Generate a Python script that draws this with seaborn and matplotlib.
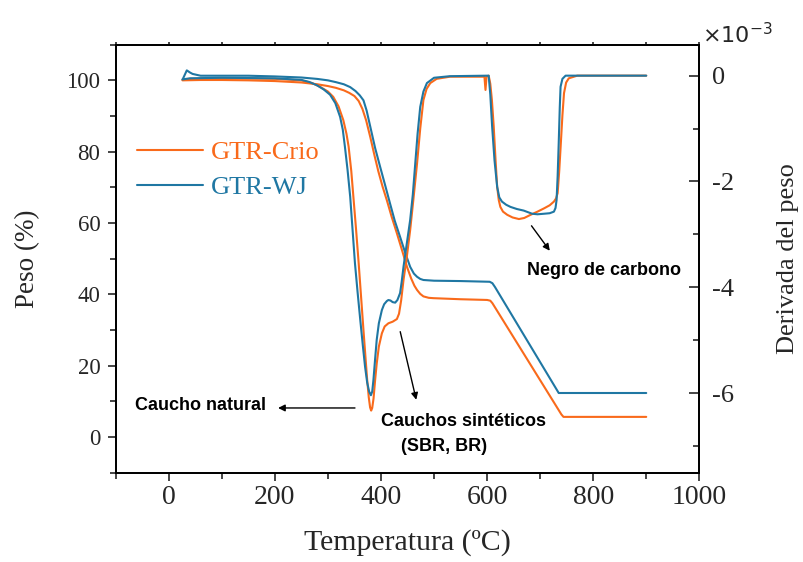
import matplotlib
matplotlib.use("Agg")
import matplotlib.pyplot as plt
from matplotlib.lines import Line2D
import seaborn as sns

# ---------------- data ----------------
# TGA (weight %) -- GTR-Crio
tga_crio_T = [26, 60, 100, 150, 200, 250, 280, 300, 315, 330, 340, 350, 358, 365, 372, 380, 388, 395, 403, 411, 420, 430, 440,
              449, 457, 463, 468, 474, 480, 490, 499, 550, 600, 606, 610, 615, 740, 744, 800, 900]
tga_crio_W = [100.0, 100.1, 100.1, 100.0, 99.8, 99.4, 98.9, 98.4, 97.9, 97.2, 96.5, 95.6, 94.2, 92.0, 88.8, 84.0, 78.8, 74.5, 70.2, 66.4, 61.8, 57.1, 52.2,
              47.7, 44.4, 42.4, 41.2, 40.1, 39.4, 39.0, 38.9, 38.6, 38.4, 38.2, 37.5, 36.3, 6.3, 5.6, 5.6, 5.6]

# TGA (weight %) -- GTR-WJ
tga_wj_T = [26, 30, 34, 40, 45, 60, 100, 150, 200, 250, 280, 300, 315, 330, 342, 352, 360, 367, 373, 380, 389, 398.5, 408, 417, 426, 436, 446,
            455, 462, 468, 474, 480, 500, 550, 605, 610, 615, 731, 735, 740, 800, 900]
tga_wj_W = [100.2, 101.5, 102.8, 102.2, 101.8, 101.3, 101.3, 101.3, 101.1, 100.8, 100.4, 100.0, 99.5, 98.9, 98.1, 97.0, 95.8, 94.4, 91.5, 86.9, 81.0, 75.7, 70.5, 65.5, 60.6, 56.1, 51.5,
            47.7, 45.8, 44.9, 44.3, 44.0, 43.8, 43.7, 43.5, 43.1, 42.0, 13.3, 12.3, 12.3, 12.3, 12.3]

# DTG (x10^-3) -- GTR-Crio
dtg_crio_T = [26, 40, 100, 200, 250, 270, 285, 300, 310, 320, 329, 335, 339, 344, 348, 353, 358, 363, 367, 371, 374, 377, 379.5, 381.5, 383.5,
              386, 389, 392, 396, 401.7, 407, 414, 422, 430, 434, 438, 442.5, 449, 455, 461, 468, 474, 480, 486, 493, 505, 530,
              595, 597, 599, 603, 606, 609, 612.5, 616, 619, 622, 625, 630, 638, 648, 660, 670, 682, 695, 707, 718, 726, 730, 733,
              736, 739, 742, 745, 749, 754, 770, 900]
dtg_crio_D = [-0.08, -0.06, -0.05, -0.06, -0.09, -0.14, -0.21, -0.30, -0.40, -0.58, -0.84, -1.10, -1.34, -1.80, -2.29, -2.90, -3.55, -4.25, -4.81, -5.35, -5.75, -6.08, -6.27, -6.33, -6.28,
              -6.10, -5.75, -5.44, -5.12, -4.87, -4.74, -4.68, -4.65, -4.60, -4.50, -4.25, -3.86, -3.40, -2.92, -2.35, -1.66, -1.00, -0.46, -0.25, -0.14, -0.06, -0.02,
              -0.02, -0.27, -0.02, 0.0, -0.15, -0.45, -0.96, -1.60, -2.10, -2.35, -2.48, -2.57, -2.63, -2.68, -2.71, -2.69, -2.63, -2.57, -2.51, -2.45, -2.38, -2.32, -2.22,
              -1.80, -1.28, -0.75, -0.33, -0.13, -0.05, 0.0, 0.0]

# DTG (x10^-3) -- GTR-WJ
dtg_wj_T = [26, 40, 100, 200, 250, 265, 279, 292, 304, 314, 323, 328, 332, 337, 342, 346, 351, 356, 361, 366, 370, 374, 377.7, 381, 383.5,
            385.8, 389, 392, 396, 401.7, 406, 411, 414, 418, 422, 426.8, 431, 436, 439, 442.5, 449, 455, 460, 464.6, 469, 474, 480, 486.6, 500, 530,
            603, 606, 609.5, 614, 619, 623, 628, 636, 644, 656, 669, 677, 685, 695, 707, 718, 726, 729, 731, 733, 735, 737, 738.5, 742, 748, 900]
dtg_wj_D = [-0.07, -0.05, -0.04, -0.05, -0.08, -0.12, -0.18, -0.26, -0.36, -0.52, -0.78, -1.02, -1.34, -1.78, -2.29, -2.85, -3.55, -4.10, -4.62, -5.12, -5.50, -5.80, -5.97, -6.04, -5.97,
            -5.75, -5.35, -4.99, -4.68, -4.43, -4.32, -4.26, -4.24, -4.25, -4.28, -4.29, -4.24, -4.11, -3.90, -3.61, -3.15, -2.73, -2.25, -1.66, -1.10, -0.59, -0.30, -0.14, -0.04, -0.01,
            0.0, -0.35, -0.96, -1.60, -2.10, -2.30, -2.38, -2.44, -2.48, -2.52, -2.55, -2.58, -2.61, -2.62, -2.61, -2.60, -2.57, -2.50, -2.35, -1.90, -1.28, -0.60, -0.21, -0.06, 0.0, 0.0]

series_labels = ["GTR-Crio", "GTR-WJ"]
x_ticks = [0, 200, 400, 600, 800, 1000]
y_ticks = [0, 20, 40, 60, 80, 100]
y2_ticks = [0, -2, -4, -6]

# ---------------- style ----------------
ORANGE = "#F96A1B"
BLUE = "#1F77A3"
SERIF = ["Liberation Serif", "DejaVu Serif"]

sns.set_theme(style="ticks")
plt.rcParams["font.family"] = SERIF
plt.rcParams["axes.unicode_minus"] = False

fig = plt.figure(figsize=(8.04, 5.62), dpi=100)
ax = fig.add_axes([115.7 / 804, 1 - 472.5 / 562, (699.3 - 115.7) / 804, (472.5 - 44.7) / 562])
ax2 = ax.twinx()

lw = 1.5
sns.lineplot(x=tga_crio_T, y=tga_crio_W, ax=ax, color=ORANGE, lw=lw, sort=False)
sns.lineplot(x=tga_wj_T, y=tga_wj_W, ax=ax, color=BLUE, lw=lw, sort=False)
sns.lineplot(x=dtg_crio_T, y=dtg_crio_D, ax=ax2, color=ORANGE, lw=lw, sort=False)
sns.lineplot(x=dtg_wj_T, y=dtg_wj_D, ax=ax2, color=BLUE, lw=lw, sort=False)

ax.set_xlim(-100, 1000)
ax.set_ylim(-10, 110)
ax2.set_ylim(-7.5, 0.585)

ax.set_xticks(x_ticks)
ax.set_xticks(list(range(-100, 1001, 200)), minor=True)
ax.set_yticks(y_ticks)
ax.set_yticks(list(range(-10, 111, 20)), minor=True)
ax2.set_yticks(y2_ticks)
ax2.set_yticks([-1, -3, -5, -7], minor=True)

for a in (ax, ax2):
    for s in a.spines.values():
        s.set_linewidth(1.3)
        s.set_color("black")

ax.tick_params(axis="x", which="both", direction="out", bottom=True, top=True, width=1.2)
ax.tick_params(axis="x", which="major", labelsize=20, length=6, pad=3)
ax.tick_params(axis="x", which="minor", length=4)
for t in ax.xaxis.get_major_ticks() + ax.xaxis.get_minor_ticks():
    t.tick2line.set_markersize(2)
ax.tick_params(axis="y", which="both", direction="out", labelsize=16.5, width=1.2, pad=5)
ax.tick_params(axis="y", which="major", length=6)
ax.tick_params(axis="y", which="minor", length=4)
ax2.tick_params(axis="y", which="both", direction="in", labelsize=19, width=1.2, pad=9)
ax2.tick_params(axis="y", which="major", length=7)
ax2.tick_params(axis="y", which="minor", length=4)

ax.set_xlabel("Temperatura (ºC)", fontsize=21.5, labelpad=14)
ax.set_ylabel("Peso (%)", fontsize=19.5, labelpad=19)
ax2.set_ylabel("Derivada del peso", fontsize=19, labelpad=31)

ax2.text(1.004, 0.993, "×10$^{-3}$", transform=ax2.transAxes, fontsize=16,
         ha="left", va="bottom", family=["DejaVu Sans"])

# legend
handles = [Line2D([], [], color=ORANGE, lw=lw), Line2D([], [], color=BLUE, lw=lw)]
leg = ax.legend(handles, series_labels, loc="upper left", bbox_to_anchor=(0.036, 0.775),
                frameon=False, fontsize=19, handlelength=2.5, handletextpad=0.32,
                labelspacing=0.42, borderpad=0, borderaxespad=0)
for t, c in zip(leg.get_texts(), [ORANGE, BLUE]):
    t.set_color(c)

# annotations
bold = dict(fontsize=13, fontweight="bold", family=["Liberation Sans", "DejaVu Sans"], color="black")
arrow = dict(arrowstyle="-|>", color="black", lw=1.0, mutation_scale=10, shrinkA=0, shrinkB=0)
ax.text(-64, 8.8, "Caucho natural", ha="left", va="center", **bold)
ax.annotate("", xy=(206, 8.1), xytext=(351, 8.1), arrowprops=arrow)
ax.text(555, 4.3, "Cauchos sintéticos", ha="center", va="center", **bold)
ax.text(519, -2.7, "(SBR, BR)", ha="center", va="center", **bold)
ax.annotate("", xy=(466.5, 10.4), xytext=(436.3, 29.5), arrowprops=arrow)
ax.text(819.6, 46.8, "Negro de carbono", ha="center", va="center", **bold)
ax.annotate("", xy=(718.2, 52.2), xytext=(683.7, 59.2), arrowprops=arrow)

fig.savefig("out.png", dpi=100)
